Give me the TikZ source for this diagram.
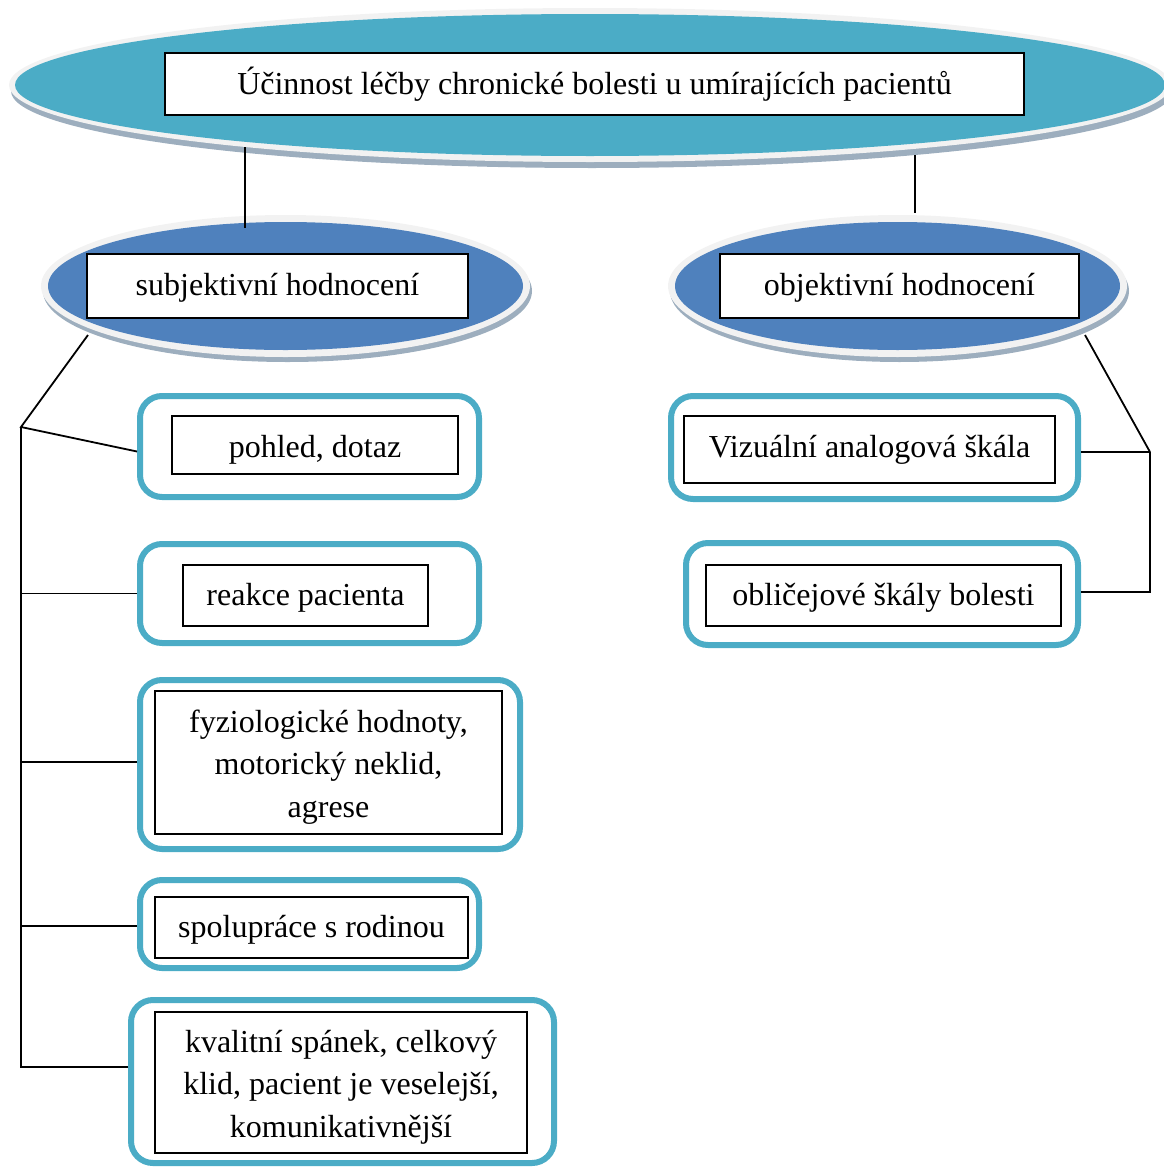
\documentclass[tikz,border=0pt]{standalone}
\usepackage{fontspec}
\setmainfont{Liberation Serif}
\usetikzlibrary{shapes.geometric}
\definecolor{headteal}{HTML}{4BACC6}
\definecolor{ovalblue}{HTML}{4F81BD}
\definecolor{ringgray}{HTML}{F2F2F2}
\definecolor{shadowgray}{HTML}{9DAEBE}
\begin{document}
\begin{tikzpicture}[x=1pt,y=-1pt,
  oval/.style={ellipse, inner sep=0pt, outer sep=0pt, fill=#1},
  txtbox/.style 2 args={draw=black, line width=1.6pt, fill=white, inner sep=0pt,
    label={[inner sep=0pt, align=center, yshift=#2,
      font=\fontsize{32}{42.5}\selectfont]center:#1}},
  frame/.style={draw=headteal, line width=6pt, rounded corners=22pt,
    fill=white, outer sep=3pt},
  link/.style={line width=1.8pt, black}]
\useasboundingbox (0,0) rectangle (1164,1167);

% ---- head oval ----
\fill[shadowgray] (592,91) ellipse [x radius=581pt, y radius=77pt];
\fill[ringgray] (590,85) ellipse [x radius=581pt, y radius=77pt];
\node[oval=headteal, minimum width=1150pt, minimum height=142pt] (top) at (590,85) {};
\node[txtbox={Účinnost léčby chronické bolesti u umírajících pacientů}{-0.5pt},
  minimum width=859pt, minimum height=62pt] (title) at (594.5,84) {};

% ---- second level ovals ----
\fill[shadowgray] (287.5,291) ellipse [x radius=244.5pt, y radius=71pt];
\fill[ringgray] (285.5,286) ellipse [x radius=244.5pt, y radius=71pt];
\node[oval=ovalblue, minimum width=475pt, minimum height=128pt] (subj) at (285.5,286) {};
\node[txtbox={subjektivní hodnocení}{-1.5pt}, minimum width=381pt, minimum height=64pt]
  (subjt) at (277.5,286) {};

\fill[shadowgray] (899.5,291) ellipse [x radius=229.5pt, y radius=71pt];
\fill[ringgray] (897.5,286) ellipse [x radius=229.5pt, y radius=71pt];
\node[oval=ovalblue, minimum width=445pt, minimum height=128pt] (obj) at (897.5,286) {};
\node[txtbox={objektivní hodnocení}{-1.5pt}, minimum width=359pt, minimum height=64pt]
  (objt) at (899.5,286) {};

% ---- subjective items ----
\node[frame, minimum width=339pt, minimum height=101pt] (f1) at (309.5,446.5) {};
\node[txtbox={pohled, dotaz}{-4.5pt}, minimum width=286pt, minimum height=58pt]
  (t1) at (315,445) {};

\node[frame, minimum width=339pt, minimum height=99pt] (f2) at (309.5,593.5) {};
\node[txtbox={reakce pacienta}{-2.5pt}, minimum width=245pt, minimum height=61pt]
  (t2) at (305.5,595.5) {};

\node[frame, minimum width=380pt, minimum height=169pt] (f3) at (330,764.5) {};
\node[txtbox={fyziologické hodnoty,\\ motorický neklid,\\ agrese}{-4.5pt},
  minimum width=347pt, minimum height=143pt] (t3) at (328.5,762.5) {};

\node[frame, minimum width=339pt, minimum height=88pt] (f4) at (309.5,924) {};
\node[txtbox={spolupráce s rodinou}{-2.5pt}, minimum width=313pt, minimum height=61pt]
  (t4) at (311.5,927.5) {};

\node[frame, minimum width=423pt, minimum height=163pt] (f5) at (342.5,1081.5) {};
\node[txtbox={kvalitní spánek, celkový\\ klid, pacient je veselejší,\\ komunikativnější}{-4.5pt},
  minimum width=372pt, minimum height=141pt] (t5) at (341,1082.5) {};

% ---- objective items ----
\node[frame, minimum width=407pt, minimum height=103pt] (f6) at (874.5,447.5) {};
\node[txtbox={Vizuální analogová škála}{-0.5pt}, minimum width=371pt, minimum height=67pt]
  (t6) at (869.5,449.5) {};

\node[frame, minimum width=392pt, minimum height=102pt] (f7) at (882,594) {};
\node[txtbox={obličejové škály bolesti}{-2.5pt}, minimum width=355pt, minimum height=61pt]
  (t7) at (883.5,595.5) {};

% ---- connectors ----
\coordinate (jL) at (21,427);
\coordinate (jR) at (1150,452);
\draw[link] ([shift={(-345,62)}]top.center) -- ([shift={(-40.5,-58)}]subj.center);
\draw[link] ([shift={(325,70)}]top.center) -- ([shift={(17.5,-73)}]obj.center);
\draw[link] ([shift={(-197.5,49)}]subj.center) -- (jL) -- ([yshift=-5pt]f1.west);
\draw[link] (f2.west) -- (f2.west -| jL);
\draw[link] ([yshift=2.5pt]f3.west) -- ([yshift=2.5pt]f3.west -| jL);
\draw[link] ([yshift=-2pt]f4.west) -- ([yshift=-2pt]f4.west -| jL);
\draw[link] ([yshift=14.5pt]f5.west) -| (jL);
\draw[link] ([shift={(187.5,49)}]obj.center) -- (jR);
\draw[link] (f6.east |- jR) -- (jR);
\draw[link] ([yshift=2pt]f7.east) -| (jR);
\end{tikzpicture}
\end{document}
